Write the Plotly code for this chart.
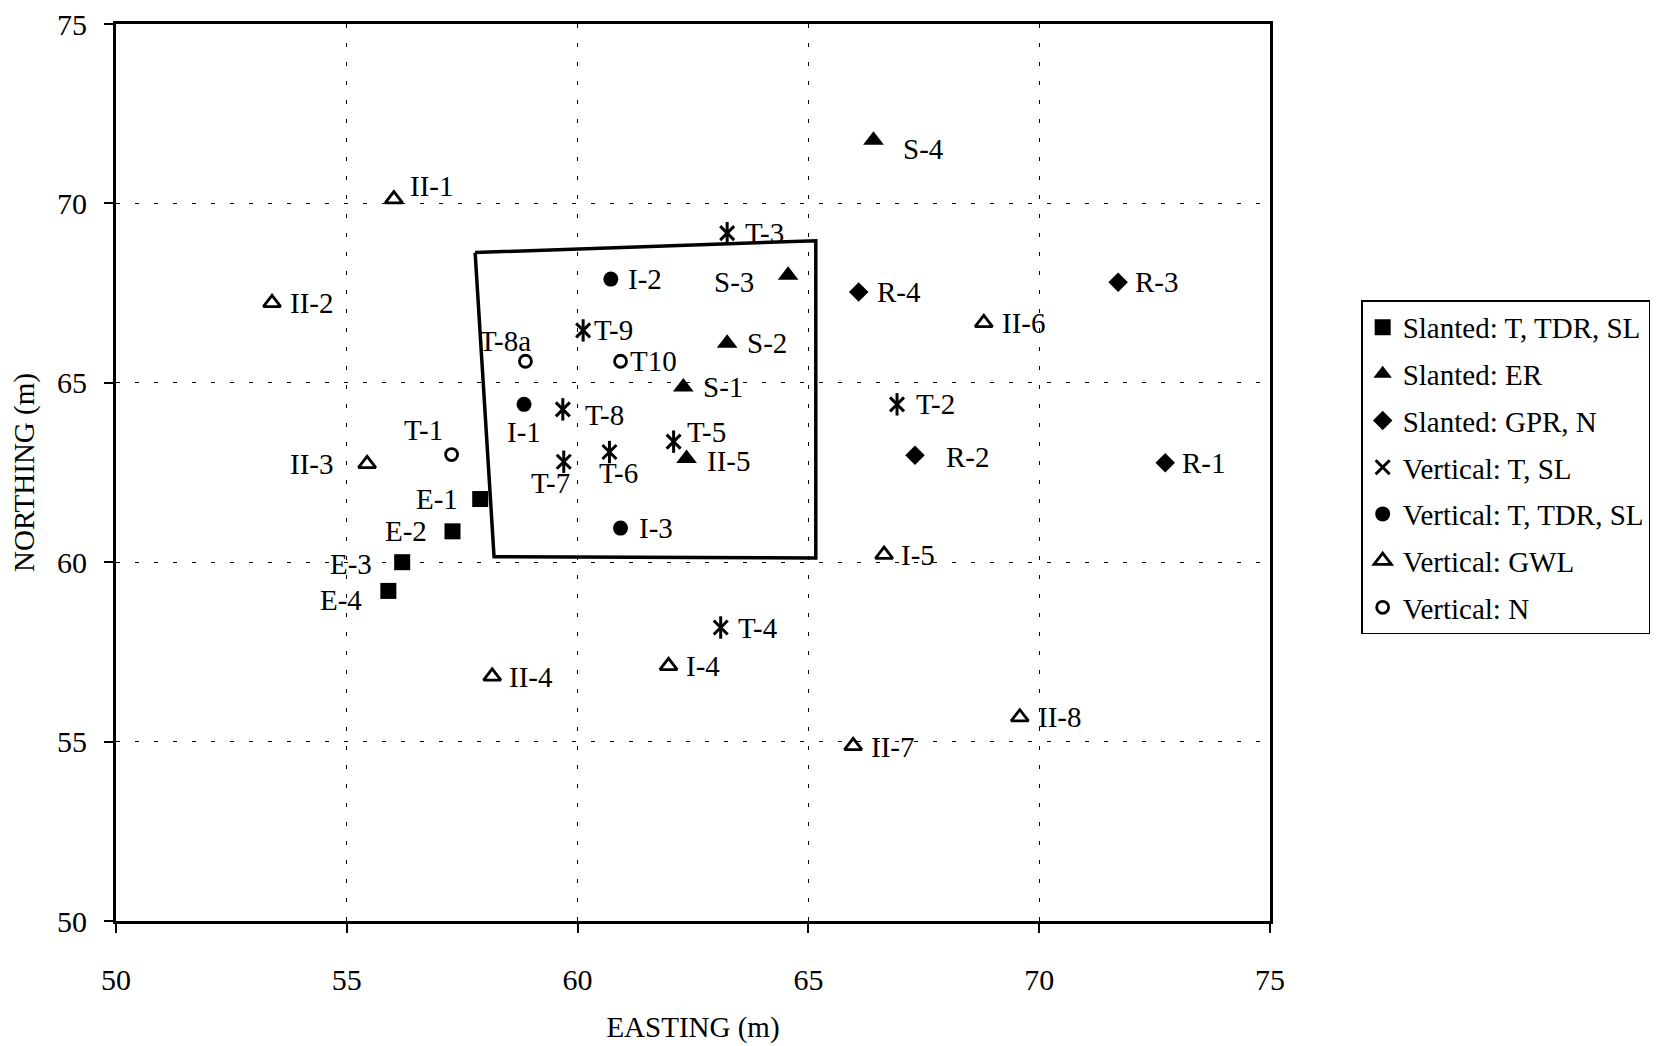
import plotly.graph_objects as go

# ---------------- data ----------------
sq_names = ["E-1", "E-2", "E-3", "E-4"]
sq_x = [57.89, 57.29, 56.20, 55.90]
sq_y = [61.76, 60.86, 60.00, 59.20]

tri_names = ["S-4", "S-3", "S-2", "S-1", "II-5"]
tri_x = [66.41, 64.56, 63.24, 62.29, 62.36]
tri_y = [71.76, 68.00, 66.10, 64.88, 62.89]

dia_names = ["R-4", "R-3", "R-2", "R-1"]
dia_x = [66.09, 71.71, 67.31, 72.73]
dia_y = [67.53, 67.80, 62.98, 62.77]

ast_names = ["T-3", "T-9", "T-8", "T-5", "T-6", "T-7", "T-2", "T-4"]
ast_x = [63.24, 60.12, 59.68, 62.08, 60.69, 59.70, 66.92, 63.10]
ast_y = [69.17, 66.46, 64.26, 63.36, 63.07, 62.80, 64.40, 58.18]

dot_names = ["I-2", "I-1", "I-3"]
dot_x = [60.72, 58.84, 60.93]
dot_y = [67.89, 64.40, 60.95]

otri_names = ["II-1", "II-2", "II-3", "II-4", "I-4", "I-5", "II-6", "II-7", "II-8"]
otri_x = [56.02, 53.38, 55.44, 58.15, 61.97, 66.64, 68.80, 65.97, 69.58]
otri_y = [70.12, 67.23, 62.74, 56.82, 57.11, 60.21, 66.67, 54.88, 55.68]

ocir_names = ["T-8a", "T10", "T-1"]
ocir_x = [58.87, 60.93, 57.27]
ocir_y = [65.60, 65.60, 63.00]

box_x = [57.78, 65.16, 65.16, 58.19, 57.78]
box_y = [68.63, 68.96, 60.12, 60.15, 68.63]

legend_names = [
    "Slanted: T, TDR, SL",
    "Slanted: ER",
    "Slanted: GPR, N",
    "Vertical: T, SL",
    "Vertical: T, TDR, SL",
    "Vertical: GWL",
    "Vertical: N",
]

x_ticks = [50, 55, 60, 65, 70, 75]
y_ticks = [50, 55, 60, 65, 70, 75]

# ---------------- label placement (style) ----------------
# name: (xanchor, xshift px, yshift px)
LABEL_POS = {
    "E-1": ("right", -20, 0), "E-2": ("right", -24, 0), "E-3": ("right", -28, -2),
    "E-4": ("right", -24, -9),
    "S-4": ("left", 28, -9), "S-3": ("right", -32, -7), "S-2": ("left", 18, 0),
    "S-1": ("left", 18, 0), "II-5": ("left", 18, -2),
    "R-4": ("left", 16, 0), "R-3": ("left", 15, 0), "R-2": ("left", 29, -2),
    "R-1": ("left", 15, 0),
    "T-3": ("left", 16, 0), "T-9": ("left", 9, 0), "T-8": ("left", 20, -6),
    "T-5": ("left", 11, 10), "T-6": ("center", 9, -21), "T-7": ("center", -13, -21),
    "T-2": ("left", 17, 0), "T-4": ("left", 15, 0),
    "I-2": ("left", 15, 0), "I-1": ("center", 0, -28), "I-3": ("left", 16, 0),
    "II-1": ("left", 14, 13), "II-2": ("left", 16, 0), "II-3": ("right", -32, 0),
    "II-4": ("left", 15, -1), "I-4": ("left", 15, 0), "I-5": ("left", 15, 0),
    "II-6": ("left", 16, 0), "II-7": ("left", 16, -1), "II-8": ("left", 16, 0),
    "T-8a": ("center", -20, 20), "T10": ("left", 7, 0), "T-1": ("center", -28, 25),
}

FONT = "Liberation Serif, Times New Roman, serif"
BLACK = "black"

fig = go.Figure()

# boundary polygon
fig.add_trace(go.Scatter(x=box_x, y=box_y, mode="lines",
                         line=dict(color=BLACK, width=3.5), showlegend=False,
                         hoverinfo="skip"))

series = [
    (sq_x, sq_y, dict(symbol="square", size=16, color=BLACK)),
    (tri_x, tri_y, dict(symbol="triangle-up", size=18, color=BLACK)),
    (dia_x, dia_y, dict(symbol="diamond", size=15, color=BLACK)),
    (ast_x, ast_y, dict(symbol="x-thin-open", size=14, color=BLACK,
                        line=dict(color=BLACK, width=3))),
    (dot_x, dot_y, dict(symbol="circle", size=15, color=BLACK)),
    (otri_x, otri_y, dict(symbol="triangle-up-open", size=15, color=BLACK,
                          line=dict(color=BLACK, width=2.8))),
    (ocir_x, ocir_y, dict(symbol="circle-open", size=12, color=BLACK,
                          line=dict(color=BLACK, width=2.8))),
]

for i, ((xs, ys, mk), name) in enumerate(zip(series, legend_names)):
    fig.add_trace(go.Scatter(x=xs, y=ys, mode="markers", name=name,
                             marker=mk, legendgroup=f"g{i}"))
    if i == 3:
        # vertical arm of the asterisk
        fig.add_trace(go.Scatter(x=xs, y=ys, mode="markers", showlegend=False,
                                 legendgroup=f"g{i}",
                                 marker=dict(symbol="line-ns-open", size=16,
                                             color=BLACK,
                                             line=dict(color=BLACK, width=3))))

annotations = []
for names, xs, ys in [(sq_names, sq_x, sq_y), (tri_names, tri_x, tri_y),
                      (dia_names, dia_x, dia_y), (ast_names, ast_x, ast_y),
                      (dot_names, dot_x, dot_y), (otri_names, otri_x, otri_y),
                      (ocir_names, ocir_x, ocir_y)]:
    for n, x, y in zip(names, xs, ys):
        xa, xs_, ys_ = LABEL_POS[n]
        annotations.append(dict(x=x, y=y, xref="x", yref="y", text=n,
                                showarrow=False, xanchor=xa, yanchor="middle",
                                xshift=xs_, yshift=ys_,
                                font=dict(family=FONT, size=29, color=BLACK)))

axis_common = dict(
    showline=True, linecolor=BLACK, linewidth=3, mirror=True,
    ticks="outside", ticklen=9, tickwidth=1.5, tickcolor=BLACK,
    showgrid=True, gridcolor=BLACK, gridwidth=1.4, griddash="4px,15px",
    zeroline=False, tickfont=dict(family=FONT, size=30, color=BLACK),
)

fig.update_layout(
    width=1678, height=1046,
    margin=dict(l=116, r=408, t=24, b=125, autoexpand=False),
    paper_bgcolor="white", plot_bgcolor="white",
    font=dict(family=FONT, color=BLACK),
    xaxis=dict(range=[50, 75], tickvals=x_ticks, ticklabelstandoff=21,
               title=dict(text="EASTING (m)", standoff=22,
                          font=dict(family=FONT, size=29, color=BLACK)),
               **axis_common),
    yaxis=dict(range=[50, 75], tickvals=y_ticks, ticklabelstandoff=11,
               title=dict(text="NORTHING (m)", standoff=14,
                          font=dict(family=FONT, size=29, color=BLACK)),
               **axis_common),
    legend=dict(x=1.079, y=0.692, xanchor="left", yanchor="top",
                bordercolor=BLACK, borderwidth=1.5, bgcolor="white",
                tracegroupgap=6, itemsizing="trace",
                font=dict(family=FONT, size=29, color=BLACK)),
    annotations=annotations,
    showlegend=True,
)

fig.write_html("out.html")
